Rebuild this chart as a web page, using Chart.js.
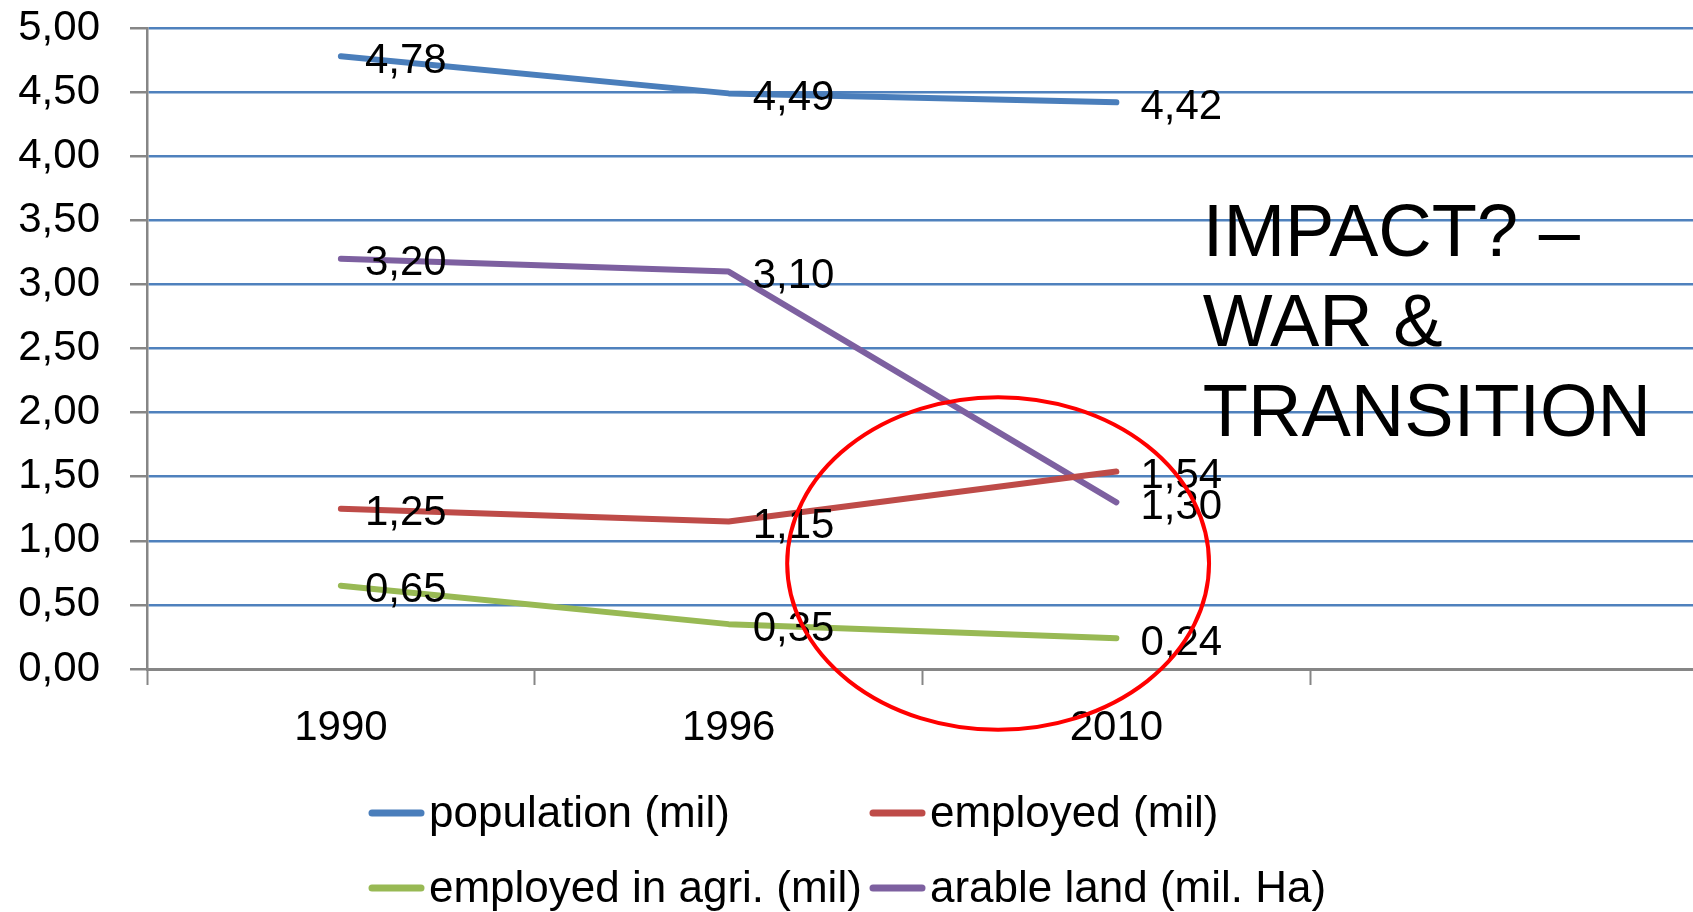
<!DOCTYPE html>
<html>
<head>
<meta charset="utf-8">
<script src="https://cdn.jsdelivr.net/npm/chart.js@4.4.1/dist/chart.umd.min.js"></script>
<style>
html,body{margin:0;padding:0;overflow:hidden;background:#fff;width:1693px;height:912px}
#wrap{position:absolute;left:0;top:0;width:1698px;height:912px}
</style>
</head>
<body>
<div id="wrap"><canvas id="c" width="1698" height="912"></canvas></div>
<script>
// ---- data ----
const categories = ['1990', '1996', '2010', ''];
const population = [4.78, 4.49, 4.42];
const employed = [1.25, 1.15, 1.54];
const employedAgri = [0.65, 0.35, 0.24];
const arableLand = [3.20, 3.10, 1.30];
const seriesNames = ['population (mil)', 'employed (mil)', 'employed in agri. (mil)', 'arable land (mil. Ha)'];
const yMin = 0, yMax = 5, yStep = 0.5;
const noteLines = ['IMPACT? \u2013', 'WAR &', 'TRANSITION'];

// ---- styles ----
const FONT = '"Liberation Sans", Arial, sans-serif';
const colors = ['#4A7EBB', '#BE4B48', '#98B954', '#7D60A0'];
const GRID = '#4F81BD';
const AXIS = '#868686';
const fmt = v => Number(v).toFixed(2).replace('.', ',');

const dataLabels = {
  id: 'dataLabels',
  afterDatasetsDraw(chart) {
    const ctx = chart.ctx;
    ctx.save();
    ctx.font = '42px ' + FONT;
    ctx.fillStyle = '#000';
    ctx.textAlign = 'left';
    ctx.textBaseline = 'middle';
    chart.data.datasets.forEach((ds, i) => {
      const meta = chart.getDatasetMeta(i);
      meta.data.forEach((pt, j) => {
        const v = ds.data[j];
        if (v == null) return;
        ctx.fillText(fmt(v), pt.x + 24, pt.y + 5);
      });
    });
    ctx.restore();
  }
};

const annotations = {
  id: 'annotations',
  afterDraw(chart) {
    const ctx = chart.ctx;
    const xs = chart.scales.x, ys = chart.scales.y;
    // note text
    ctx.save();
    ctx.font = '74px ' + FONT;
    ctx.fillStyle = '#000';
    ctx.textAlign = 'left';
    ctx.textBaseline = 'alphabetic';
    const tx = xs.getPixelForValue(2.223);
    noteLines.forEach((t, i) => {
      ctx.fillText(t, tx, ys.getPixelForValue(3.22 - i * 0.702));
    });
    ctx.restore();

    // legend
    ctx.save();
    ctx.font = '44px ' + FONT;
    ctx.fillStyle = '#000';
    ctx.textAlign = 'left';
    ctx.textBaseline = 'alphabetic';
    const colX = [369, 870];
    const rowY = [813, 888];
    chart.data.datasets.forEach((ds, i) => {
      const x = colX[i % 2], y = rowY[Math.floor(i / 2)];
      ctx.strokeStyle = ds.borderColor;
      ctx.lineWidth = 7;
      ctx.lineCap = 'round';
      ctx.beginPath();
      ctx.moveTo(x + 3, y);
      ctx.lineTo(x + 52, y);
      ctx.stroke();
      ctx.fillText(ds.label, x + 60, y + 14);
    });
    ctx.restore();

    // red ellipse
    ctx.save();
    const cx = xs.getPixelForValue(1.695);
    const cy = ys.getPixelForValue(0.823);
    const rx = xs.getPixelForValue(1.695 + 0.544) - cx;
    const ry = cy - ys.getPixelForValue(0.823 + 1.297);
    ctx.strokeStyle = '#FF0000';
    ctx.lineWidth = 4;
    ctx.beginPath();
    ctx.ellipse(cx, cy, rx, ry, 0, 0, Math.PI * 2);
    ctx.stroke();
    ctx.restore();
  }
};

const mkDs = (label, data, color) => ({
  label, data,
  borderColor: color, backgroundColor: color,
  borderWidth: 6, pointRadius: 0, pointHoverRadius: 0,
  tension: 0, fill: false,
  borderCapStyle: 'round', borderJoinStyle: 'round'
});

new Chart(document.getElementById('c'), {
  type: 'line',
  data: {
    labels: categories,
    datasets: [
      mkDs(seriesNames[0], population, colors[0]),
      mkDs(seriesNames[1], employed, colors[1]),
      mkDs(seriesNames[2], employedAgri, colors[2]),
      mkDs(seriesNames[3], arableLand, colors[3])
    ]
  },
  options: {
    responsive: false,
    animation: false,
    devicePixelRatio: 1,
    events: [],
    layout: { padding: { top: 28, left: 0, right: 0, bottom: 0 } },
    plugins: { legend: { display: false }, tooltip: { enabled: false } },
    scales: {
      x: {
        type: 'category',
        offset: true,
        grid: { offset: true, drawOnChartArea: false, drawTicks: true, tickLength: 16, tickColor: AXIS, tickWidth: 2 },
        border: { color: AXIS, width: 3 },
        ticks: { font: { family: FONT, size: 42 }, color: '#000', padding: 18, maxRotation: 0, autoSkip: false },
        afterFit(s) { s.height = 243; s.paddingLeft = 0; s.paddingRight = 0; }
      },
      y: {
        min: yMin, max: yMax,
        ticks: { stepSize: yStep, callback: v => fmt(v), font: { family: FONT, size: 42 }, color: '#000', padding: 30 },
        grid: {
          color: c => (c.tick && c.tick.value === 0) ? 'rgba(0,0,0,0)' : GRID,
          lineWidth: 2.5, tickLength: 17, tickColor: AXIS, tickWidth: 2.5
        },
        border: { color: AXIS, width: 2.5 },
        afterFit(s) { s.width = 147; s.paddingTop = 0; s.paddingBottom = 0; }
      }
    }
  },
  plugins: [dataLabels, annotations]
});
</script>
</body>
</html>
